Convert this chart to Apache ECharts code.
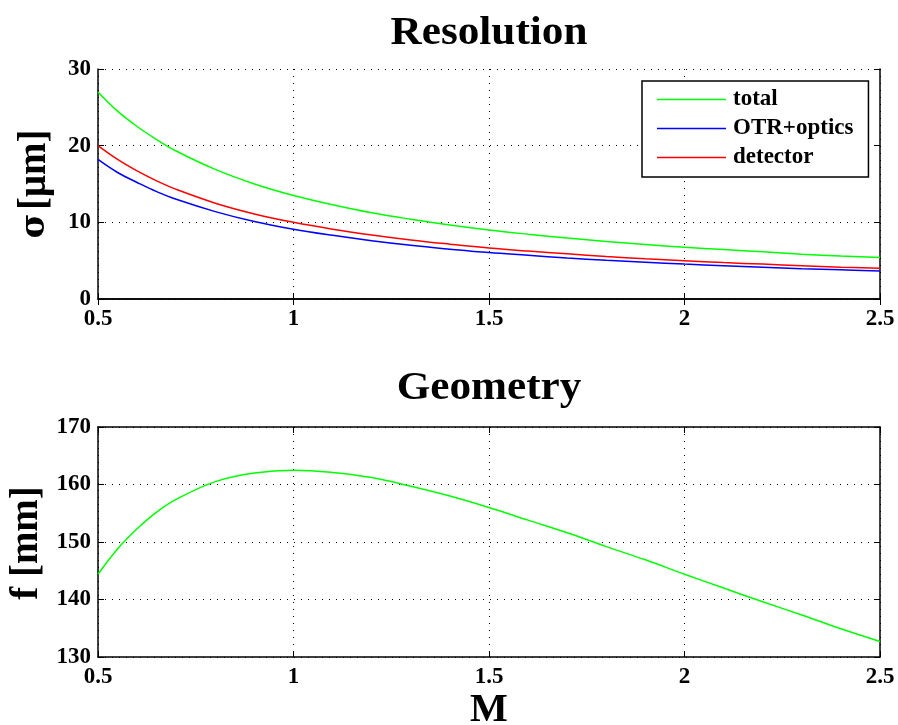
<!DOCTYPE html>
<html>
<head>
<meta charset="utf-8">
<script src="https://cdn.jsdelivr.net/npm/echarts@6/dist/echarts.min.js"></script>
<style>html,body{margin:0;padding:0;background:#fff}#c{width:898px;height:725px}</style>
</head>
<body>
<div id="c"></div>
<script>
const M = [0.5,0.55,0.6,0.65,0.7,0.8,0.9,1.0,1.1,1.2,1.3,1.4,1.5,1.6,1.7,1.8,1.9,2.0,2.1,2.2,2.3,2.4,2.5];
const total = [27.0,24.5,22.5,20.8,19.3,16.9,15.0,13.5,12.3,11.25,10.4,9.65,9.0,8.45,7.95,7.5,7.1,6.75,6.45,6.15,5.85,5.6,5.4];
const otrOptics = [18.2,16.5,15.2,14.0,13.0,11.4,10.1,9.1,8.3,7.6,7.0,6.5,6.05,5.7,5.35,5.05,4.8,4.55,4.35,4.15,3.95,3.8,3.65];
const detector = [20.0,18.2,16.7,15.4,14.3,12.5,11.1,10.0,9.1,8.35,7.7,7.15,6.65,6.25,5.9,5.55,5.25,5.0,4.75,4.55,4.35,4.15,4.0];
const focal = [144.4,148.8,152.3,155.2,157.4,160.5,162.0,162.5,162.1,161.2,159.7,158.0,156.0,153.8,151.6,149.2,146.9,144.4,142.0,139.6,137.3,134.9,132.7];
const xTicks = {min:0.5, max:2.5, interval:0.5};
const yTop = {min:0, max:30, interval:10};
const yBot = {min:130, max:170, interval:10};
const titles = ['Resolution','Geometry'];
const yNames = ['σ','[μm]','f [mm]'];
const xName = 'M';
const seriesNames = ['total','OTR+optics','detector'];

const FONT = '"Liberation Serif","Times New Roman",serif';
const lbl = {color:'#000', fontFamily:FONT, fontWeight:'bold', fontSize:23};
const split = {show:true, lineStyle:{color:'#000', type:[1,6], width:1}};
const axLine = {show:true, lineStyle:{color:'#000', width:1.5}};
const tick = {show:true, inside:true, length:6, lineStyle:{color:'#000', width:1}};

function xAx(grid, pos, main){
  return {type:'value', gridIndex:grid, position:pos, min:xTicks.min, max:xTicks.max, interval:xTicks.interval,
    axisLine:axLine, axisTick:tick, axisLabel: main ? Object.assign({margin:9, showMaxLabel:true, showMinLabel:true}, lbl) : {show:false},
    splitLine: main ? split : {show:false}};
}
function yAx(grid, pos, r, main){
  return {type:'value', gridIndex:grid, position:pos, min:r.min, max:r.max, interval:r.interval,
    axisLine:axLine, axisTick:tick, axisLabel: main ? Object.assign({margin:7}, lbl) : {show:false},
    splitLine: main ? split : {show:false}};
}
const pairs = arr => M.map((m,i)=>[m, arr[i]]);

const chart = echarts.init(document.getElementById('c'), null, {renderer:'canvas'});
chart.setOption({
  backgroundColor:'#fff',
  animation:false,
  grid:[
    {left:98, right:18, top:69, bottom:426, containLabel:false},
    {left:98, right:18, top:427, bottom:68, containLabel:false}
  ],
  xAxis:[xAx(0,'bottom',true), xAx(0,'top',false), xAx(1,'bottom',true), xAx(1,'top',false)],
  yAxis:[yAx(0,'left',yTop,true), yAx(0,'right',yTop,false), yAx(1,'left',yBot,true), yAx(1,'right',yBot,false)],
  legend:{
    data:seriesNames, orient:'vertical', left:642, top:81,
    icon:'rect', itemWidth:69, itemHeight:1.5, itemGap:6,
    padding:[7,15,8,15],
    backgroundColor:'#fff', borderColor:'#000', borderWidth:1.5, borderRadius:0,
    textStyle:{color:'#000', fontFamily:FONT, fontWeight:'bold', fontSize:23, padding:[0,0,0,2]}
  },
  graphic:[
    {type:'text', x:489, y:34, scaleX:1.08, style:{text:titles[0], font:'bold 40px '+FONT, fill:'#000', align:'center', verticalAlign:'middle'}},
    {type:'text', x:489, y:389, scaleX:1.08, style:{text:titles[1], font:'bold 40px '+FONT, fill:'#000', align:'center', verticalAlign:'middle'}},
    {type:'text', x:35, y:184, rotation:Math.PI/2, style:{
      text:'{s|' + yNames[0] + '} {t|' + yNames[1] + '}', fill:'#000', align:'center', verticalAlign:'middle',
      rich:{
        s:{fontFamily:'"DejaVu Serif",serif', fontWeight:'bold', fontSize:34, fill:'#000', verticalAlign:'middle'},
        t:{fontFamily:FONT, fontWeight:'bold', fontSize:39, fill:'#000', verticalAlign:'middle'}
      }}},
    {type:'text', x:27, y:543, rotation:Math.PI/2, style:{text:yNames[2], font:'bold 39px '+FONT, fill:'#000', align:'center', verticalAlign:'middle'}},
    {type:'text', x:489, y:711, style:{text:xName, font:'bold 40px '+FONT, fill:'#000', align:'center', verticalAlign:'middle'}}
  ],
  series:[
    {name:seriesNames[0], type:'line', xAxisIndex:0, yAxisIndex:0, data:pairs(total), symbol:'none', smooth:0.4, lineStyle:{color:'#00ff00', width:1.5}, itemStyle:{color:'#00ff00'}},
    {name:seriesNames[1], type:'line', xAxisIndex:0, yAxisIndex:0, data:pairs(otrOptics), symbol:'none', smooth:0.4, lineStyle:{color:'#0000ff', width:1.5}, itemStyle:{color:'#0000ff'}},
    {name:seriesNames[2], type:'line', xAxisIndex:0, yAxisIndex:0, data:pairs(detector), symbol:'none', smooth:0.4, lineStyle:{color:'#ff0000', width:1.5}, itemStyle:{color:'#ff0000'}},
    {name:'f', type:'line', xAxisIndex:2, yAxisIndex:2, data:pairs(focal), symbol:'none', smooth:0.4, lineStyle:{color:'#00ff00', width:1.5}, itemStyle:{color:'#00ff00'}}
  ]
});
</script>
</body>
</html>
